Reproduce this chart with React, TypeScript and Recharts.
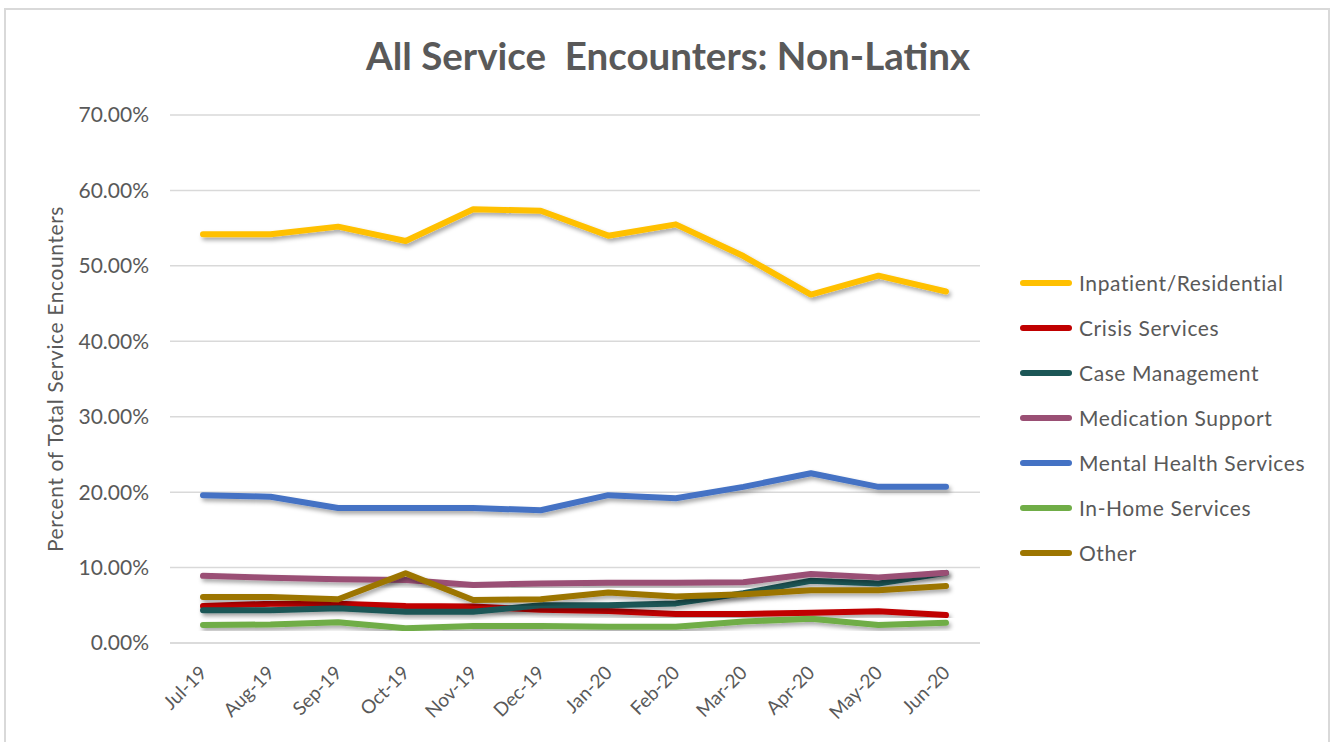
import React from "react";
import { LineChart, Line, XAxis, YAxis, CartesianGrid } from "recharts";

const months = ["Jul-19", "Aug-19", "Sep-19", "Oct-19", "Nov-19", "Dec-19", "Jan-20", "Feb-20", "Mar-20", "Apr-20", "May-20", "Jun-20"];
const inpatient = [54.2, 54.2, 55.2, 53.3, 57.5, 57.3, 54.0, 55.5, 51.3, 46.2, 48.7, 46.6];
const crisis = [4.9, 5.2, 5.2, 4.9, 4.85, 4.4, 4.25, 3.85, 3.85, 4.0, 4.2, 3.7];
const caseMgmt = [4.35, 4.35, 4.6, 4.15, 4.15, 5.0, 5.0, 5.25, 6.6, 8.25, 7.9, 9.3];
const medication = [8.9, 8.65, 8.45, 8.35, 7.7, 7.9, 8.0, 8.0, 8.05, 9.15, 8.7, 9.3];
const mentalHealth = [19.6, 19.4, 17.9, 17.9, 17.9, 17.6, 19.6, 19.2, 20.7, 22.5, 20.7, 20.7];
const inHome = [2.4, 2.45, 2.75, 1.95, 2.25, 2.25, 2.15, 2.15, 2.85, 3.2, 2.4, 2.7];
const other = [6.1, 6.1, 5.8, 9.25, 5.7, 5.8, 6.7, 6.15, 6.45, 7.0, 7.0, 7.55];
const yTicks = [0, 10, 20, 30, 40, 50, 60, 70];

const series = [
  { key: "Inpatient/Residential", values: inpatient, color: "#FFC000" },
  { key: "Crisis Services", values: crisis, color: "#C00000" },
  { key: "Case Management", values: caseMgmt, color: "#1B5656" },
  { key: "Medication Support", values: medication, color: "#9A4F74" },
  { key: "Mental Health Services", values: mentalHealth, color: "#4472C4" },
  { key: "In-Home Services", values: inHome, color: "#70AD47" },
  { key: "Other", values: other, color: "#9C7500" },
];

const data = months.map((m, i) => {
  const row: Record<string, any> = { month: m };
  series.forEach((s) => (row[s.key] = s.values[i]));
  return row;
});

const FONT = "Lato, 'Open Sans', sans-serif";
const GREY = "#595959";

const XTick = (props: any) => {
  const { x, y, payload } = props;
  return (
    <g transform={`translate(${x + 5},${y + 31})`}>
      <text textAnchor="end" transform="rotate(-45)" fontSize={19} fill={GREY} fontFamily={FONT}>
        {payload.value}
      </text>
    </g>
  );
};

export default function App() {
  return (
    <div style={{ position: "fixed", left: 0, top: 0, width: 1331, height: 742, background: "#fff", overflow: "hidden" }}>
      <div style={{ position: "absolute", left: 4, top: 8, width: 2, height: 740, background: "#d9d9d9" }} />
      <div style={{ position: "absolute", left: 4, top: 8, width: 1326, height: 2, background: "#d9d9d9" }} />
      <div style={{ position: "absolute", left: 1328, top: 8, width: 2, height: 740, background: "#d9d9d9" }} />
      <div
        style={{
          position: "absolute",
          left: 0,
          top: 32,
          width: 1336,
          textAlign: "center",
          fontFamily: FONT,
          fontWeight: 700,
          fontSize: 38.5,
          color: GREY,
          whiteSpace: "pre",
        }}
      >
        {"All Service  Encounters: Non-Latinx"}
      </div>
      <div style={{ position: "absolute", left: 0, top: 0 }}>
        <LineChart width={1331} height={742} data={data} margin={{ top: 115, right: 351, bottom: 69, left: 0 }}>
          <defs>
            <filter id="shadow" x="-5%" y="-20%" width="110%" height="140%">
              <feDropShadow dx="2" dy="3" stdDeviation="2" floodColor="#000" floodOpacity="0.35" />
            </filter>
          </defs>
          <CartesianGrid vertical={false} stroke="#d9d9d9" strokeWidth={1.5} />
          <XAxis
            dataKey="month"
            tick={<XTick />}
            tickLine={false}
            tickSize={0}
            tickMargin={0}
            height={30}
            padding={{ left: 33, right: 34 }}
            axisLine={{ stroke: "#d9d9d9", strokeWidth: 1.5 }}
            interval={0}
          />
          <YAxis
            width={170}
            domain={[0, 70]}
            ticks={yTicks}
            tickFormatter={(v: number) => `${v.toFixed(2)}%`}
            tick={{ fontSize: 21, fill: GREY, fontFamily: FONT }}
            tickLine={false}
            axisLine={false}
            tickMargin={15}
            label={{
              value: "Percent of Total Service Encounters",
              angle: -90,
              position: "insideLeft",
              offset: 56,
              style: { textAnchor: "middle", fontSize: 21, fill: GREY, fontFamily: FONT, letterSpacing: 0.6 },
            }}
          />
          {series.map((s) => (
            <Line
              key={s.key}
              type="linear"
              dataKey={s.key}
              stroke={s.color}
              strokeWidth={6}
              dot={false}
              activeDot={false}
              strokeLinecap="round"
              strokeLinejoin="round"
              filter="url(#shadow)"
              isAnimationActive={false}
            />
          ))}
        </LineChart>
      </div>
      <div style={{ position: "absolute", left: 1020, top: 260, fontFamily: FONT }}>
        {series.map((s) => (
          <div key={s.key} style={{ display: "flex", alignItems: "center", height: 45 }}>
            <div style={{ width: 52, height: 6, borderRadius: 3, background: s.color, marginRight: 7 }} />
            <span style={{ fontSize: 21, color: GREY, letterSpacing: 0.6 }}>{s.key}</span>
          </div>
        ))}
      </div>
    </div>
  );
}
